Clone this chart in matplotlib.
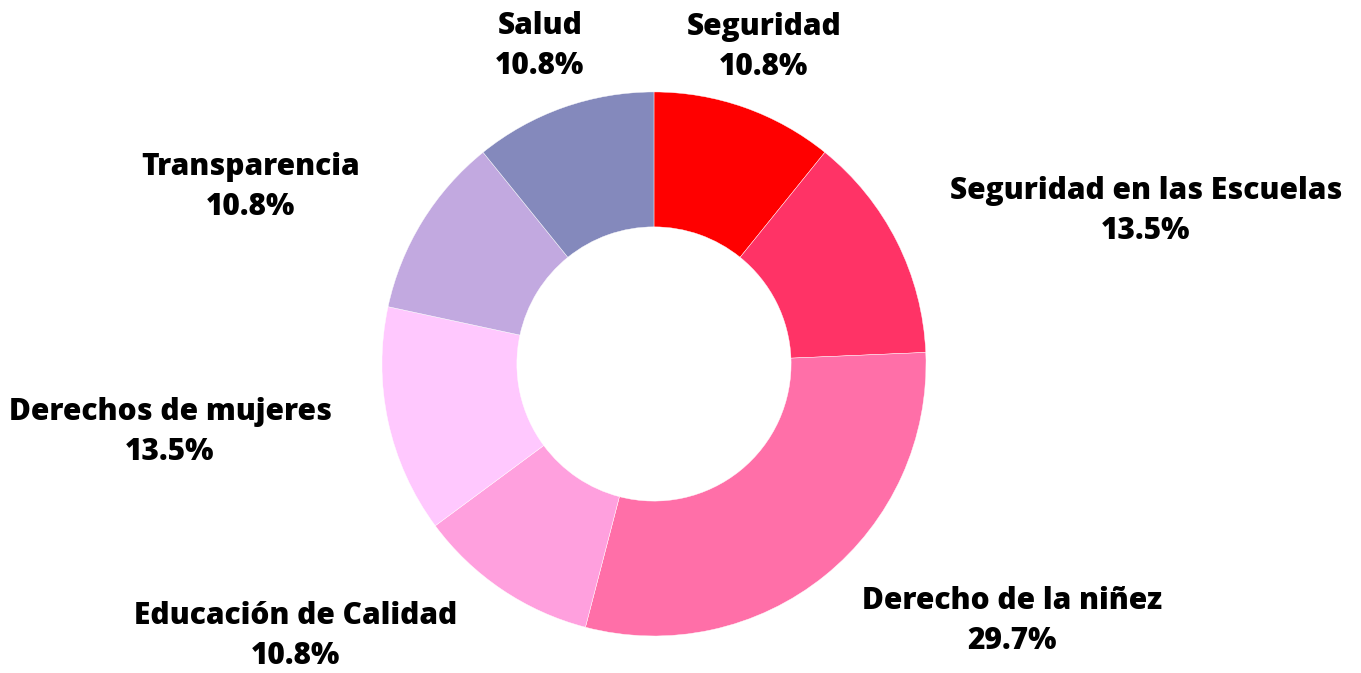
import matplotlib
matplotlib.use("Agg")
import matplotlib.pyplot as plt

# Datos
temas = ["Seguridad", "Seguridad en las Escuelas", "Derecho de la niñez",
         "Educación de Calidad", "Derechos de mujeres", "Transparencia", "Salud"]
porcentajes = [10.8, 13.5, 29.7, 10.8, 13.5, 10.8, 10.8]
colores = ["#FF0000", "#FF3366", "#FF6FA8", "#FFA0DE", "#FFC8FE", "#C2A9E0", "#8489BC"]

# Posición de cada etiqueta (unidades del radio)
pos_etiquetas = [(0.404, 1.165), (1.809, 0.5625), (1.316, -0.945), (-1.316, -1.0),
                 (-1.779, -0.25), (-1.482, 0.651), (-0.419, 1.169)]

fig = plt.figure(figsize=(13.61, 6.73), dpi=100)
ax = fig.add_axes([0, 0, 1, 1])

ax.pie(porcentajes, colors=colores, startangle=90, counterclock=False,
       radius=1.0, wedgeprops=dict(width=0.496, edgecolor="white", linewidth=0.3))

for tema, pct, (x, y) in zip(temas, porcentajes, pos_etiquetas):
    ax.text(x, y, f"{tema}\n{pct:.1f}%", ha="center", va="center",
            fontsize=21.5, fontfamily="Open Sans", fontweight="extra bold",
            color="black", linespacing=1.45)

ax.set_xlim(-2.404, 2.599)
ax.set_ylim(-1.136, 1.338)
ax.set_aspect("equal")
ax.axis("off")

fig.savefig("out.png", dpi=100, facecolor="white")
